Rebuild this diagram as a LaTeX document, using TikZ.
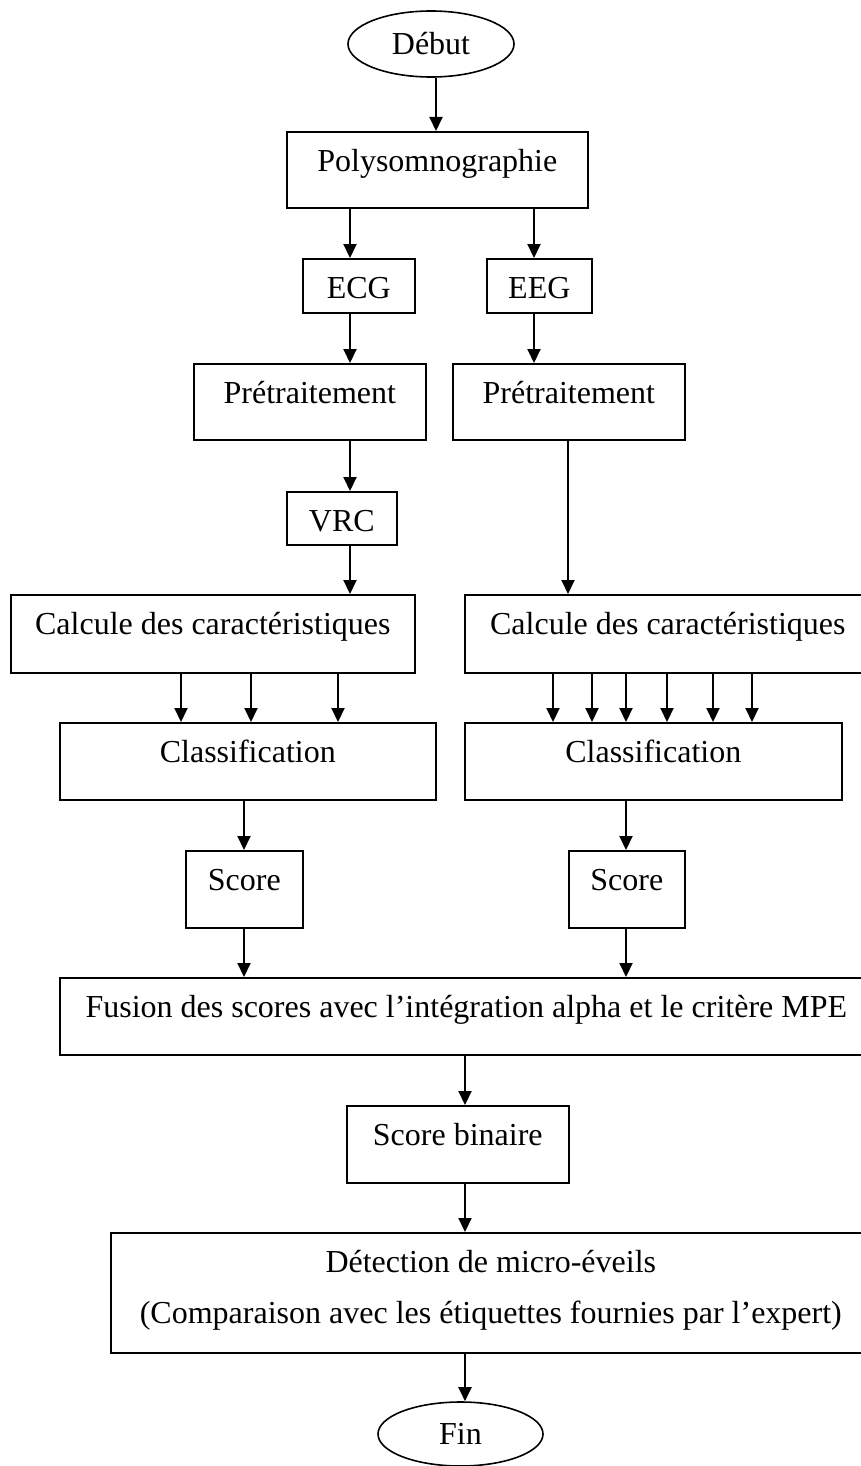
\documentclass[tikz,border=0pt]{standalone}
\usepackage{fontspec}
\setmainfont{Liberation Serif}
\usetikzlibrary{arrows.meta,shapes.geometric}
\begin{document}
\begin{tikzpicture}[x=1pt,y=-1pt,
  txt/.style={font=\fontsize{32}{51}\selectfont},
  box/.style={txt,draw,line width=1.6pt,rectangle,inner sep=0pt,anchor=north west,text height=40pt},
  term/.style={txt,draw,line width=1.6pt,ellipse,inner sep=0pt},
  arr/.style={line width=2pt,-{Triangle[length=14pt,width=13pt]}}]
\clip (0,0) rectangle (861,1466);
% nodes
\node[term,minimum width=166pt,minimum height=66pt] (debut) at (431,44) {Début};
\node[box,minimum width=301pt,text depth=36pt] (poly) at (286,131) {Polysomnographie};
\node[box,minimum width=112pt,text depth=14pt] (ecg) at (302,258) {ECG};
\node[box,minimum width=105pt,text depth=14pt] (eeg) at (486,258) {EEG};
\node[box,minimum width=232pt,text depth=36pt] (pre1) at (193,363) {Prétraitement};
\node[box,minimum width=232pt,text depth=36pt] (pre2) at (452,363) {Prétraitement};
\node[box,minimum width=110pt,text depth=13pt] (vrc) at (286,491) {VRC};
\node[box,minimum width=404pt,text depth=38pt] (calc1) at (10,594) {Calcule des caractéristiques};
\node[box,minimum width=406pt,text depth=38pt] (calc2) at (464,594) {Calcule des caractéristiques};
\node[box,minimum width=376pt,text depth=37pt] (class1) at (59,722) {Classification};
\node[box,minimum width=377pt,text depth=37pt] (class2) at (464,722) {Classification};
\node[box,minimum width=117pt,text depth=37pt] (score1) at (185,850) {Score};
\node[box,minimum width=116pt,text depth=37pt] (score2) at (568,850) {Score};
\node[box,minimum width=813pt,text depth=37pt] (fusion) at (59,977) {Fusion des scores avec l’intégration alpha et le critère MPE};
\node[box,minimum width=222pt,text depth=37pt] (sbin) at (346,1105) {Score binaire};
\node[box,minimum width=760pt,text depth=80pt] (detect) at (110,1232) {\begin{tabular}[t]{@{}c@{}}Détection de micro-éveils\\(Comparaison avec les étiquettes fournies par l’expert)\end{tabular}};
\node[term,minimum width=165pt,minimum height=64pt] (fin) at (460.5,1434) {Fin};
% connector x positions
\coordinate (xd) at (436,0);
\coordinate (xa) at (350,0);
\coordinate (xb) at (534,0);
\coordinate (xc) at (568,0);
\coordinate (xl) at (244,0);
\coordinate (xr) at (626,0);
\coordinate (xm) at (465,0);
\foreach \x [count=\i] in {181,251,338}{\coordinate (l\i) at (\x,0);}
\foreach \x [count=\i] in {553,592,626,667,713,752}{\coordinate (r\i) at (\x,0);}
% connectors
\draw[arr] (debut.south -| xd) -- (poly.north -| xd);
\draw[arr] (poly.south -| xa) -- (ecg.north -| xa);
\draw[arr] (poly.south -| xb) -- (eeg.north -| xb);
\draw[arr] (ecg.south -| xa) -- (pre1.north -| xa);
\draw[arr] (eeg.south -| xb) -- (pre2.north -| xb);
\draw[arr] (pre1.south -| xa) -- (vrc.north -| xa);
\draw[arr] (vrc.south -| xa) -- (calc1.north -| xa);
\draw[arr] (pre2.south -| xc) -- (calc2.north -| xc);
\foreach \i in {1,2,3}{\draw[arr] (calc1.south -| l\i) -- (class1.north -| l\i);}
\foreach \i in {1,...,6}{\draw[arr] (calc2.south -| r\i) -- (class2.north -| r\i);}
\draw[arr] (class1.south -| xl) -- (score1.north -| xl);
\draw[arr] (class2.south -| xr) -- (score2.north -| xr);
\draw[arr] (score1.south -| xl) -- (fusion.north -| xl);
\draw[arr] (score2.south -| xr) -- (fusion.north -| xr);
\draw[arr] (fusion.south -| xm) -- (sbin.north -| xm);
\draw[arr] (sbin.south -| xm) -- (detect.north -| xm);
\draw[arr] (detect.south -| xm) -- (fin.north -| xm);
\end{tikzpicture}
\end{document}
